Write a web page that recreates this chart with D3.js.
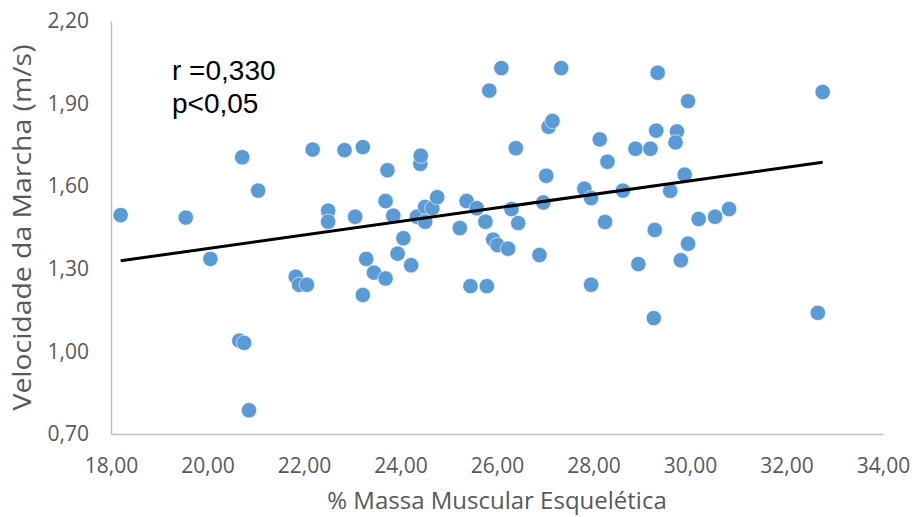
<!DOCTYPE html>
<html>
<head>
<meta charset="utf-8">
<script src="https://cdn.jsdelivr.net/npm/d3@7"></script>
<style>
  body { margin: 0; background: #fff; }
</style>
</head>
<body>
<script>
// % massa muscular esquelética (x) e velocidade da marcha (y)
var massa = [18.20, 19.55, 20.06, 20.72, 21.05, 20.66, 20.76, 20.86, 21.83, 21.90,
             22.06, 22.18, 22.50, 22.50, 22.84, 23.06, 23.22, 23.22, 23.29, 23.45,
             23.69, 23.73, 23.69, 23.85, 23.94, 24.06, 24.22, 24.34, 24.41, 24.42,
             24.51, 24.51, 24.66, 24.76, 25.23, 25.37, 25.45, 25.58, 25.76, 25.79,
             25.84, 25.92, 26.01, 26.09, 26.23, 26.30, 26.39, 26.44, 26.88, 26.96,
             27.02, 27.07, 27.15, 27.33, 27.81, 27.95, 27.95, 28.13, 28.24, 28.29,
             28.61, 28.87, 28.93, 29.18, 29.25, 29.27, 29.30, 29.33, 29.59, 29.73,
             29.70, 29.81, 29.89, 29.96, 29.96, 30.18, 30.52, 30.81, 32.65, 32.75];
var velocidade = [1.495, 1.486, 1.336, 1.705, 1.584, 1.039, 1.031, 0.786, 1.271, 1.242,
                  1.242, 1.733, 1.511, 1.471, 1.731, 1.489, 1.742, 1.205, 1.336, 1.286,
                  1.265, 1.658, 1.546, 1.493, 1.355, 1.411, 1.313, 1.489, 1.681, 1.711,
                  1.525, 1.471, 1.520, 1.560, 1.448, 1.546, 1.237, 1.520, 1.471, 1.237,
                  1.947, 1.406, 1.386, 2.029, 1.373, 1.517, 1.738, 1.466, 1.350, 1.541,
                  1.638, 1.816, 1.837, 2.029, 1.591, 1.557, 1.242, 1.770, 1.470, 1.689,
                  1.584, 1.736, 1.317, 1.736, 1.121, 1.441, 1.802, 2.012, 1.583, 1.799,
                  1.759, 1.331, 1.642, 1.391, 1.909, 1.481, 1.489, 1.517, 1.140, 1.942];
var xTicks = [18, 20, 22, 24, 26, 28, 30, 32, 34];
var yTicks = [0.70, 1.00, 1.30, 1.60, 1.90, 2.20];
var anotacao = ["r =0,330", "p<0,05"];

var w = 914, h = 517;
var mLeft = 111, mRight = 883, mTop = 21, mBottom = 434;

var pontos = massa.map(function(d, i) {
    return { x: d, y: velocidade[i] };
});

var svg = d3.select("body")
            .append("svg")
            .attr("width", w)
            .attr("height", h);

var x = d3.scaleLinear().domain([18, 34]).range([mLeft, mRight]);
var y = d3.scaleLinear().domain([0.70, 2.20]).range([mBottom, mTop]);

var fmt = function(d) { return d3.format(".2f")(d).replace(".", ","); };
var tickFont = "'Open Sans', 'DejaVu Sans', sans-serif";

// eixos
var xAxis = svg.append("g")
    .attr("transform", "translate(0," + mBottom + ")")
    .call(d3.axisBottom(x).tickValues(xTicks).tickFormat(fmt).tickSize(0).tickPadding(24));
var yAxis = svg.append("g")
    .attr("transform", "translate(" + mLeft + ",0)")
    .call(d3.axisLeft(y).tickValues(yTicks).tickFormat(fmt).tickSize(0).tickPadding(22));

[xAxis, yAxis].forEach(function(a) {
    a.select(".domain").attr("stroke", "#bfbfbf").attr("stroke-width", 1.5);
    a.selectAll("text")
        .attr("font-family", tickFont)
        .attr("font-size", "21px")
        .attr("fill", "#595959");
});

// pontos
svg.append("g").selectAll("circle")
    .data(pontos)
    .enter()
    .append("circle")
    .attr("cx", function(d) { return x(d.x); })
    .attr("cy", function(d) { return y(d.y); })
    .attr("r", 7.7)
    .attr("fill", "#5b9bd5")
    .attr("stroke", "#ffffff")
    .attr("stroke-width", 0.6);

// linha de tendência (mínimos quadrados)
var mx = d3.mean(massa), my = d3.mean(velocidade);
var sxy = d3.sum(pontos, function(d) { return (d.x - mx) * (d.y - my); });
var sxx = d3.sum(pontos, function(d) { return (d.x - mx) * (d.x - mx); });
var b = sxy / sxx, a = my - b * mx;
var ext = d3.extent(massa);

svg.append("path")
    .datum(ext.map(function(v) { return { x: v, y: a + b * v }; }))
    .attr("d", d3.line()
        .x(function(d) { return x(d.x); })
        .y(function(d) { return y(d.y); }))
    .attr("fill", "none")
    .attr("stroke", "#000")
    .attr("stroke-width", 3);

// anotação
svg.append("g").selectAll("text")
    .data(anotacao)
    .enter()
    .append("text")
    .text(function(d) { return d; })
    .attr("x", 172)
    .attr("y", function(d, i) { return 80 + i * 33; })
    .attr("font-family", "'Liberation Sans', Arial, sans-serif")
    .attr("font-size", "28px")
    .attr("fill", "#000");

// títulos dos eixos
svg.append("text")
    .text("% Massa Muscular Esquelética")
    .attr("x", (mLeft + mRight) / 2)
    .attr("y", 509)
    .attr("text-anchor", "middle")
    .attr("font-family", tickFont)
    .attr("font-size", "24px")
    .attr("fill", "#595959");

svg.append("text")
    .text("Velocidade da Marcha (m/s)")
    .attr("transform", "translate(31," + (mTop + mBottom) / 2 + ") rotate(-90)")
    .attr("text-anchor", "middle")
    .attr("textLength", 366)
    .attr("lengthAdjust", "spacingAndGlyphs")
    .attr("font-family", tickFont)
    .attr("font-size", "26px")
    .attr("fill", "#595959");
</script>
</body>
</html>
